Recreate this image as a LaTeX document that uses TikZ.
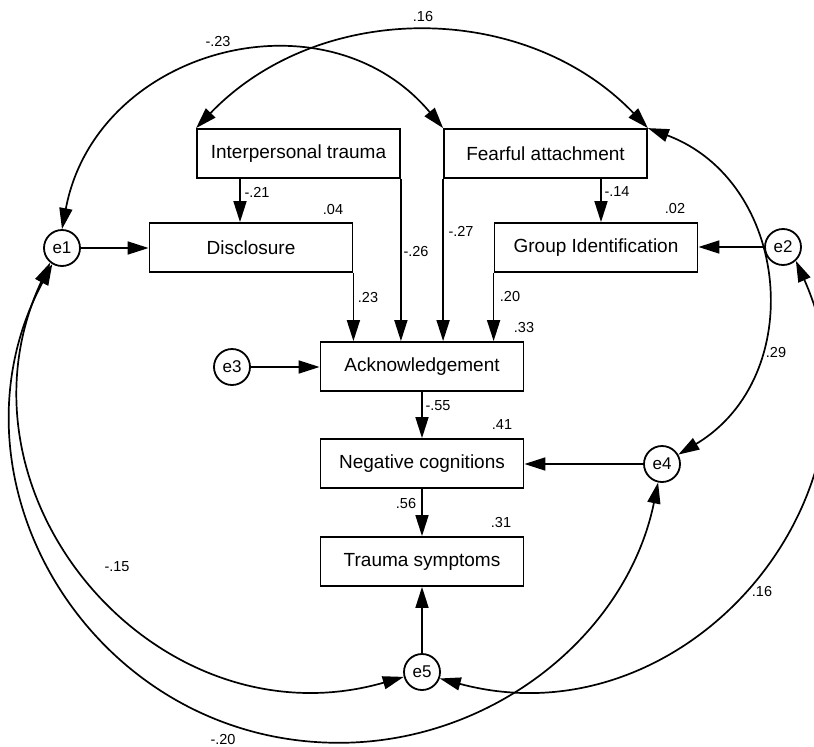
\documentclass[tikz,border=0pt]{standalone}
\usepackage{fontspec}
\setmainfont{Liberation Sans}
\usetikzlibrary{arrows.meta}
\begin{document}
\begin{tikzpicture}[x=1pt,y=-1pt,
  box/.style={draw, line width=1.8pt, minimum width=203pt, minimum height=49pt, inner sep=0pt, font=\fontsize{19}{22}\selectfont},
  err/.style={draw, circle, line width=1.8pt, minimum size=36pt, inner sep=0pt, font=\fontsize{17}{20}\selectfont},
  coef/.style={inner sep=0pt, font=\fontsize{14.5}{16}\selectfont},
  arr/.style={line width=1.7pt, -{Triangle[length=21pt,width=13pt]}},
  cov/.style={line width=1.7pt, {Triangle[length=21pt,width=13pt]}-{Triangle[length=21pt,width=13pt]}}]
\useasboundingbox (0,0) rectangle (814,747);
\fill[white] (0,0) rectangle (814,747);

% boxes
\node[box] (IT) at (298.5,153.5) {Interpersonal trauma};
\node[box] (FA) at (545.5,153.5) {Fearful attachment};
\node[box] (D)  at (251,247.5) {Disclosure};
\node[box] (GI) at (596,247.5) {Group Identification};
\node[box] (A)  at (422,366.5) {Acknowledgement};
\node[box] (N)  at (422,463.5) {Negative cognitions};
\node[box] (T)  at (422,561.5) {Trauma symptoms};

% error terms
\node[err] (e1) at (62,248) {e1};
\node[err] (e2) at (783,247) {e2};
\node[err] (e3) at (232,367) {e3};
\node[err] (e4) at (662,464) {e4};
\node[err] (e5) at (422,672) {e5};

% regression paths
\draw[arr] ([xshift=-58.5pt]IT.south) -- ([xshift=-58.5pt]IT.south |- D.north);
\draw[arr] (IT.south east) -- (IT.south east |- A.north);
\draw[arr] (D.south east) -- (D.south east |- A.north);
\draw[arr] (FA.south west) -- (FA.south west |- A.north);
\draw[arr] ([xshift=55.5pt]FA.south) -- ([xshift=55.5pt]FA.south |- GI.north);
\draw[arr] (GI.south west) -- (GI.south west |- A.north);
\draw[arr] (A.south) -- (N.north);
\draw[arr] (N.south) -- (T.north);
\draw[arr] (e5.north) -- (T.south);
\draw[arr] (e1.east) -- (e1.east -| D.west);
\draw[arr] (e2.west) -- (e2.west -| GI.east);
\draw[arr] (e3.east) -- (e3.east -| A.west);
\draw[arr] (e4.west) -- (e4.west -| N.east);

% covariances
\draw[cov] (e1.north) .. controls (96.1,48.0) and (325.6,-12.1) .. (FA.north west);
\draw[cov] (IT.north west) .. controls (319.1,-0.1) and (524.9,-0.1) .. (FA.north east);
\draw[cov] (FA.north east) .. controls (790.2,181.4) and (808.7,376.5) .. (e4.30);
\draw[cov] (e1.231) .. controls (-58.5,495.6) and (157.2,747.7) .. (e5.195.5);
\draw[cov] (e1.239) .. controls (-63.8,480.6) and (92.5,742.8) .. (338.9,742.8)
                    .. controls (493.9,742.8) and (627.2,633.5) .. (e4.258);
\draw[cov] (e2.313) .. controls (899.7,494.0) and (686.2,744.7) .. (e5.340);

% coefficients
\node[coef] (c1)  at (423,17)  {.16};
\node[coef] (c2)  at (218,42)  {-.23};
\node[coef] (c3)  at (257,192) {-.21};
\node[coef] (c4)  at (333,210) {.04};
\node[coef] (c5)  at (416,252) {-.26};
\node[coef] (c6)  at (461,231) {-.27};
\node[coef] (c7)  at (617,192) {-.14};
\node[coef] (c8)  at (675,209) {.02};
\node[coef] (c9)  at (368,298) {.23};
\node[coef] (c10) at (510,297) {.20};
\node[coef] (c11) at (524,328) {.33};
\node[coef] (c12) at (776,353) {.29};
\node[coef] (c13) at (438,406) {-.55};
\node[coef] (c14) at (502,425) {.41};
\node[coef] (c15) at (406,504) {.56};
\node[coef] (c16) at (501,523) {.31};
\node[coef] (c17) at (117,567) {-.15};
\node[coef] (c18) at (762,592) {.16};
\node[coef] (c19) at (223,739) {-.20};
\end{tikzpicture}
\end{document}
